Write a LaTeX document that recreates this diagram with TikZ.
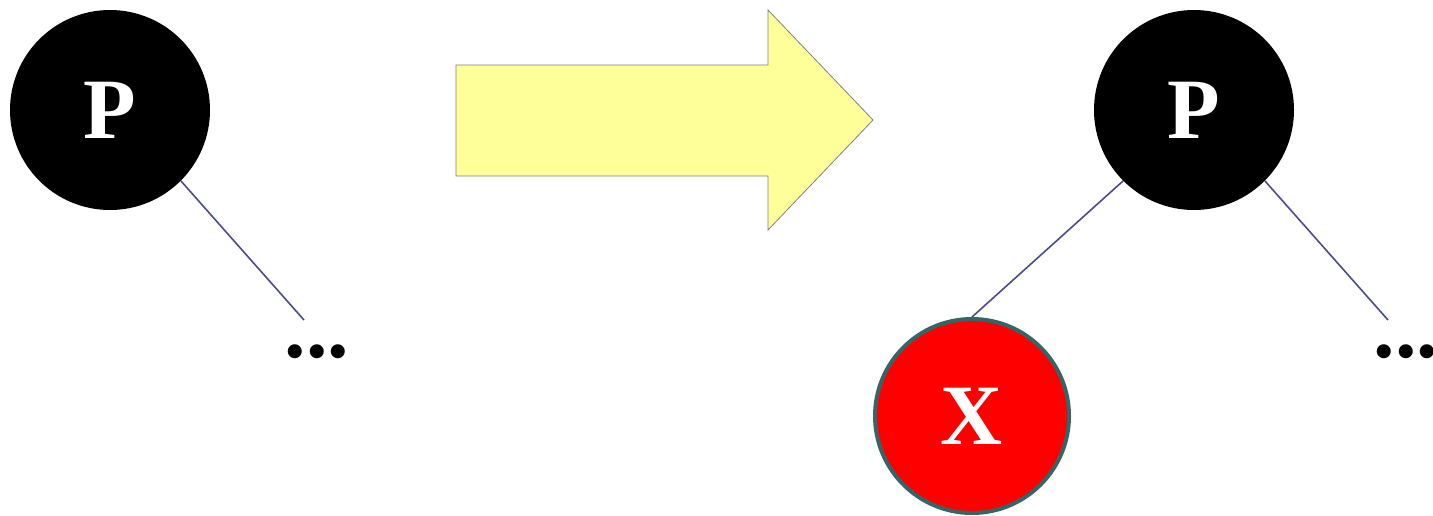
\documentclass[tikz,border=0pt]{standalone}
\usepackage{fontspec}
\setmainfont{Liberation Serif}
\definecolor{edgeblue}{RGB}{75,75,140}
\definecolor{arrowfill}{RGB}{255,255,153}
\definecolor{xborder}{RGB}{51,102,102}
\definecolor{xred}{RGB}{255,0,0}
\tikzset{
  blacknode/.style={circle, fill=black, minimum size=200pt, inner sep=0pt, text=white, font=\fontsize{86}{86}\selectfont\bfseries},
  rednode/.style={circle, fill=xred, draw=xborder, line width=4pt, minimum size=194pt, inner sep=0pt, text=white, font=\fontsize{86}{86}\selectfont\bfseries},
  dotsnode/.style={inner sep=0pt, font=\fontsize{86}{86}\selectfont\bfseries},
  edge/.style={draw=edgeblue, line width=1.6pt},
}
\begin{document}
\begin{tikzpicture}[x=1pt,y=-1pt]
\useasboundingbox (0,0) rectangle (1433,515);
% left tree
\node[blacknode] (P1) at (110,110) {P};
\coordinate (e1) at (304,320);
\node[dotsnode] (d1) at (317,352) {...};
\draw[edge] (P1.-45) -- (e1);
% big arrow
\draw[fill=arrowfill, draw=gray, line width=0.8pt]
  (456,65) -- (768,65) -- (768,10) -- (873,120) -- (768,230) -- (768,176) -- (456,176) -- cycle;
% right tree
\node[blacknode] (P2) at (1194,110) {P};
\node[rednode] (X) at (972,416) {X};
\coordinate (e2) at (1388,320);
\node[dotsnode] (d2) at (1406,352) {...};
\draw[edge] (P2.225) -- (X.north);
\draw[edge] (P2.-45) -- (e2);
\end{tikzpicture}
\end{document}
